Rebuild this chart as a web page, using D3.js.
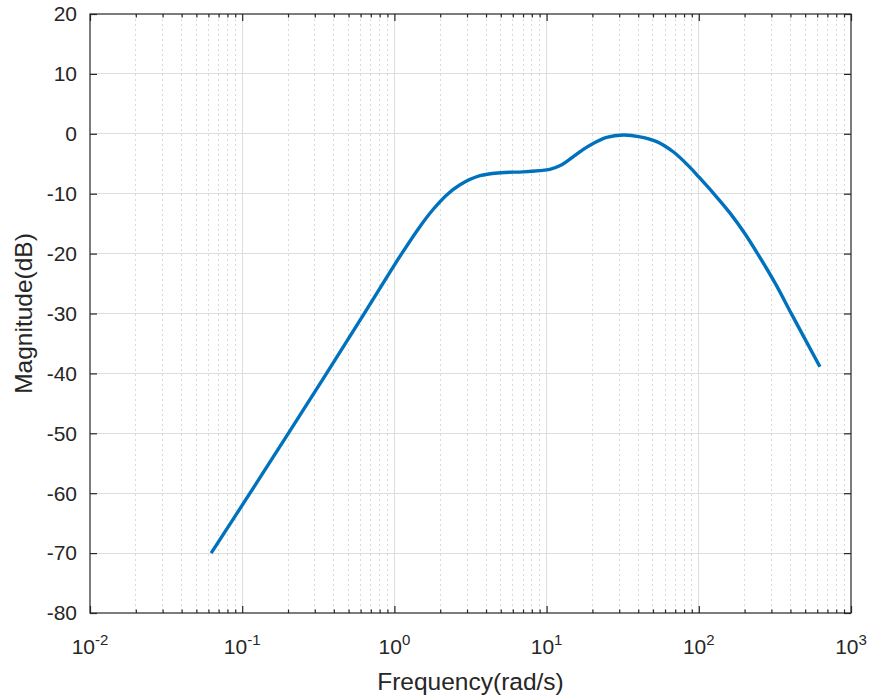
<!DOCTYPE html>
<html>
<head>
<meta charset="utf-8">
<script src="https://cdn.jsdelivr.net/npm/d3@7"></script>
<style>
  html, body { margin: 0; padding: 0; background: #ffffff; }
  svg { display: block; }
  text { font-family: "Liberation Sans", Arial, Helvetica, sans-serif; fill: #262626; }
</style>
</head>
<body>
<svg id="chart" width="872" height="700"></svg>
<script>
// Frequency response magnitude (Bode magnitude plot)
const frequency = [0.0625, 0.1125, 0.201, 0.34, 0.63, 1.117, 1.47, 1.8, 2.206, 2.7, 3.65, 5.0, 7.0, 9.0,
  10.5, 12.2, 13.6, 15.0, 17.0, 19.3, 24.8, 31.9, 41.1, 52.9, 67.9, 87.5, 100, 124.5, 160, 200, 246, 320, 407, 625];
const magnitudeDb = [-70, -60, -50, -40.9, -30.1, -20.0, -15.5, -12.6, -10.2, -8.5, -7.0, -6.5, -6.35, -6.15,
  -5.95, -5.35, -4.6, -3.8, -2.8, -1.9, -0.6, -0.2, -0.5, -1.3, -3.0, -5.6, -7.2, -9.9, -13.2, -16.6, -20.2, -25.1, -30.1, -38.9];

const xTickValues = [1e-2, 1e-1, 1e0, 1e1, 1e2, 1e3];
const xTickExponents = ["-2", "-1", "0", "1", "2", "3"];
const yTickValues = [-80, -70, -60, -50, -40, -30, -20, -10, 0, 10, 20];

const xLabel = "Frequency(rad/s)";
const yLabel = "Magnitude(dB)";

const margin = { left: 90, right: 21, top: 14, bottom: 87 };
const W = 872, H = 700;
const x0 = margin.left, x1 = W - margin.right;
const y0 = margin.top, y1 = H - margin.bottom;

const svg = d3.select("#chart");

const x = d3.scaleLog().domain([1e-2, 1e3]).range([x0, x1]);
const y = d3.scaleLinear().domain([-80, 20]).range([y1, y0]);

// minor ticks: 2..9 within each decade
const minorTicks = [];
for (let e = -2; e < 3; e++) {
  for (let m = 2; m <= 9; m++) minorTicks.push(m * Math.pow(10, e));
}

const axisColor = "#262626";

// Minor grid (dotted)
svg.append("g").selectAll("line").data(minorTicks).join("line")
  .attr("x1", d => x(d)).attr("x2", d => x(d))
  .attr("y1", y0).attr("y2", y1)
  .attr("stroke", "#d9d9d9").attr("stroke-width", 1)
  .attr("stroke-dasharray", "2,3")
  .attr("shape-rendering", "crispEdges");

// Major grid (solid)
svg.append("g").selectAll("line").data(xTickValues.slice(1, -1)).join("line")
  .attr("x1", d => x(d)).attr("x2", d => x(d))
  .attr("y1", y0).attr("y2", y1)
  .attr("stroke", "#dedede").attr("stroke-width", 1)
  .attr("shape-rendering", "crispEdges");
svg.append("g").selectAll("line").data(yTickValues.slice(1, -1)).join("line")
  .attr("x1", x0).attr("x2", x1)
  .attr("y1", d => y(d)).attr("y2", d => y(d))
  .attr("stroke", "#dedede").attr("stroke-width", 1)
  .attr("shape-rendering", "crispEdges");

// Axes with inward ticks on all four sides
const majorLen = 7, minorLen = 3.5;
const bottomAxis = d3.axisBottom(x).tickValues(xTickValues).tickSize(-majorLen).tickFormat("");
const topAxis = d3.axisTop(x).tickValues(xTickValues).tickSize(-majorLen).tickFormat("");
const bottomMinor = d3.axisBottom(x).tickValues(minorTicks).tickSize(-minorLen).tickFormat("");
const topMinor = d3.axisTop(x).tickValues(minorTicks).tickSize(-minorLen).tickFormat("");
const leftAxis = d3.axisLeft(y).tickValues(yTickValues).tickSize(-majorLen).tickFormat("");
const rightAxis = d3.axisRight(y).tickValues(yTickValues).tickSize(-majorLen).tickFormat("");

function styleAxis(g) {
  g.selectAll("path").attr("stroke", axisColor).attr("stroke-width", 1.2);
  g.selectAll("line").attr("stroke", axisColor).attr("stroke-width", 1.2);
}
svg.append("g").attr("transform", `translate(0,${y1})`).call(bottomMinor).call(styleAxis);
svg.append("g").attr("transform", `translate(0,${y0})`).call(topMinor).call(styleAxis);
svg.append("g").attr("transform", `translate(0,${y1})`).call(bottomAxis).call(styleAxis);
svg.append("g").attr("transform", `translate(0,${y0})`).call(topAxis).call(styleAxis);
svg.append("g").attr("transform", `translate(${x0},0)`).call(leftAxis).call(styleAxis);
svg.append("g").attr("transform", `translate(${x1},0)`).call(rightAxis).call(styleAxis);
svg.selectAll(".domain").attr("d", null);
svg.append("rect")
  .attr("x", x0).attr("y", y0).attr("width", x1 - x0).attr("height", y1 - y0)
  .attr("fill", "none").attr("stroke", axisColor).attr("stroke-width", 1.2);

// Y tick labels
svg.append("g").selectAll("text").data(yTickValues).join("text")
  .attr("x", x0 - 13).attr("y", d => y(d))
  .attr("dy", "0.35em")
  .attr("text-anchor", "end")
  .attr("font-size", 21)
  .text(d => d);

// X tick labels as powers of ten
const xl = svg.append("g").selectAll("text").data(xTickValues).join("text")
  .attr("x", d => x(d)).attr("y", y1 + 41)
  .attr("text-anchor", "middle")
  .attr("font-size", 21);
xl.append("tspan").text("10");
xl.append("tspan").attr("dy", -9).attr("font-size", 15).text((d, i) => xTickExponents[i]);

// Axis titles
svg.append("text")
  .attr("x", (x0 + x1) / 2).attr("y", 690)
  .attr("text-anchor", "middle")
  .attr("font-size", 24.5)
  .text(xLabel);
svg.append("text")
  .attr("transform", `translate(32,${(y0 + y1) / 2}) rotate(-90)`)
  .attr("text-anchor", "middle")
  .attr("font-size", 24.5)
  .text(yLabel);

// Magnitude curve
const points = frequency.map((f, i) => [f, magnitudeDb[i]]);
const line = d3.line()
  .x(d => x(d[0]))
  .y(d => y(d[1]))
  .curve(d3.curveCatmullRom.alpha(0.5));
svg.append("path")
  .datum(points)
  .attr("d", line)
  .attr("fill", "none")
  .attr("stroke", "#0072BD")
  .attr("stroke-width", 3.4)
  .attr("stroke-linejoin", "round");
</script>
</body>
</html>
